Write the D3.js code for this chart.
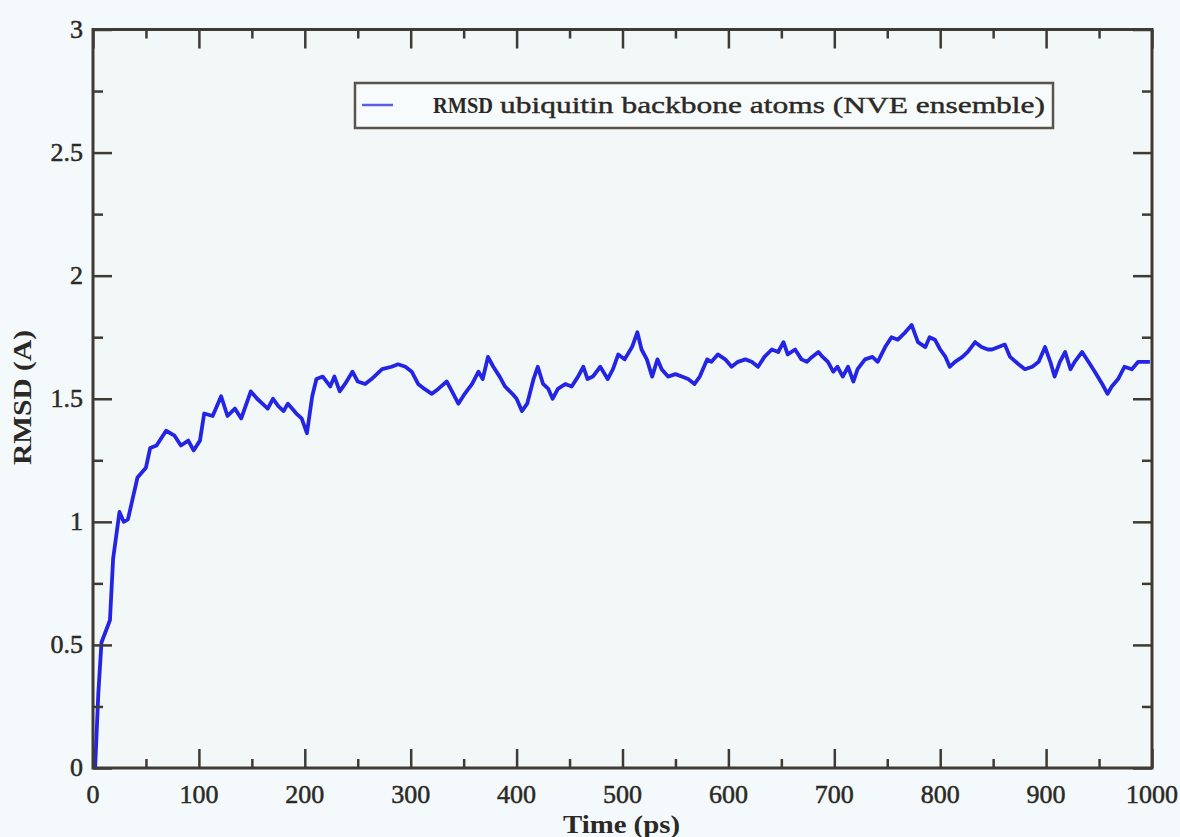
<!DOCTYPE html>
<html><head><meta charset="utf-8">
<script src="https://cdn.jsdelivr.net/npm/d3@7"></script>
<style>html,body{margin:0;padding:0;background:#f4f9fb;}svg{display:block;}</style>
</head><body>
<svg id="c" width="1180" height="837"></svg>
<script>
const timePs = [2,5,8,16,19,25,29,33,42,50,54,60,69,77,83,90,95,101,105,113,121,127,134,140,149,155,160,165,170,175,180,184,188,192,197,202,207,211,217,224,228,233,238,245,250,257,263,273,282,288,295,301,307,313,320,326,334,339,345,351,358,364,368,373,378,384,389,396,400,405,410,416,420,425,430,434,439,446,452,458,463,467,472,479,486,491,496,502,509,514,518,523,528,533,537,543,550,556,562,568,573,580,584,590,597,603,609,616,622,628,634,641,647,652,656,663,669,674,679,685,689,694,699,703,708,713,718,722,729,736,741,748,754,760,767,773,779,786,790,795,800,805,809,814,821,826,833,839,845,849,855,861,866,874,880,887,893,899,904,908,913,918,923,927,934,940,946,953,958,962,968,974,981,987,993,998];
const rmsd = [0.0,0.30,0.51,0.60,0.85,1.04,1.00,1.01,1.18,1.22,1.30,1.31,1.37,1.35,1.31,1.33,1.29,1.33,1.44,1.43,1.51,1.43,1.46,1.42,1.53,1.50,1.48,1.46,1.50,1.47,1.45,1.48,1.46,1.44,1.42,1.36,1.51,1.58,1.59,1.55,1.59,1.53,1.56,1.61,1.57,1.56,1.58,1.62,1.63,1.64,1.63,1.61,1.56,1.54,1.52,1.54,1.57,1.53,1.48,1.52,1.56,1.61,1.58,1.67,1.63,1.59,1.55,1.52,1.50,1.45,1.48,1.58,1.63,1.56,1.54,1.50,1.54,1.56,1.55,1.59,1.63,1.58,1.59,1.63,1.58,1.62,1.68,1.66,1.71,1.77,1.70,1.66,1.59,1.66,1.62,1.59,1.60,1.59,1.58,1.56,1.59,1.66,1.65,1.68,1.66,1.63,1.65,1.66,1.65,1.63,1.67,1.70,1.69,1.73,1.68,1.70,1.66,1.65,1.67,1.69,1.67,1.65,1.61,1.63,1.59,1.63,1.57,1.62,1.66,1.67,1.65,1.71,1.75,1.74,1.77,1.80,1.73,1.71,1.75,1.74,1.70,1.67,1.63,1.65,1.67,1.69,1.73,1.71,1.70,1.70,1.71,1.72,1.67,1.64,1.62,1.63,1.65,1.71,1.65,1.59,1.65,1.69,1.62,1.65,1.69,1.65,1.61,1.56,1.52,1.55,1.58,1.63,1.62,1.65,1.65,1.65];
const xMajorTicks = [0,100,200,300,400,500,600,700,800,900,1000];
const xMinorTicks = [50,150,250,350,450,550,650,750,850,950];
const yMajorTicks = [0,0.5,1,1.5,2,2.5,3];
const yMinorTicks = [0.25,0.75,1.25,1.75,2.25,2.75];
const yTickLabels = ["0","0.5","1","1.5","2","2.5","3"];
const xTitle = "Time (ps)";
const yTitle = "RMSD (A)";
const legendBold = "RMSD";
const legendRest = "ubiquitin backbone atoms (NVE ensemble)";

const svg = d3.select("#c");
const L = 93, R = 1152, T = 29.5, B = 768;
const x = d3.scaleLinear().domain([0,1000]).range([L,R]);
const y = d3.scaleLinear().domain([0,3]).range([B,T]);
const axisCol = "#3e3a34";
const txtCol = "#2b2925";
const font = "'Liberation Serif','Times New Roman',serif";

svg.append("rect").attr("width",1180).attr("height",837).attr("fill","#f4f9fb");
svg.append("rect").attr("x",L).attr("y",T).attr("width",R-L).attr("height",B-T).attr("fill","#f2f7f7");

// data line
const line = d3.line().x((d,i)=>x(timePs[i])).y(d=>y(d));
svg.append("path").datum(rmsd).attr("d",line).attr("fill","none")
  .attr("stroke","#2424e4").attr("stroke-width",3.8).attr("stroke-linejoin","round");

// axes with inward ticks
function addAxis(axisFn, scale, ticks, size, tr) {
  const g = svg.append("g").attr("transform",tr)
    .call(axisFn(scale).tickValues(ticks).tickSize(size).tickFormat(""));
  g.select(".domain").remove();
  g.selectAll("line").attr("stroke",axisCol).attr("stroke-width",2.5);
}
addAxis(d3.axisTop, x, xMajorTicks, 19, `translate(0,${B})`);
addAxis(d3.axisTop, x, xMinorTicks, 9, `translate(0,${B})`);
addAxis(d3.axisBottom, x, xMajorTicks, 19, `translate(0,${T})`);
addAxis(d3.axisBottom, x, xMinorTicks, 9, `translate(0,${T})`);
addAxis(d3.axisRight, y, yMajorTicks, 19, `translate(${L},0)`);
addAxis(d3.axisRight, y, yMinorTicks, 10, `translate(${L},0)`);
addAxis(d3.axisLeft, y, yMajorTicks, 19, `translate(${R},0)`);
addAxis(d3.axisLeft, y, yMinorTicks, 10, `translate(${R},0)`);

svg.append("rect").attr("x",L).attr("y",T).attr("width",R-L).attr("height",B-T)
  .attr("fill","none").attr("stroke",axisCol).attr("stroke-width",3);

// tick labels
svg.append("g").selectAll("text").data(xMajorTicks).join("text")
  .attr("x",d=>x(d)).attr("y",803).attr("text-anchor","middle")
  .attr("font-family",font).attr("font-size",26).attr("fill",txtCol)
  .attr("stroke",txtCol).attr("stroke-width",0.5).text(d=>d);
svg.append("g").selectAll("text").data(yMajorTicks).join("text")
  .attr("x",83).attr("y",d=>y(d)+8).attr("text-anchor","end")
  .attr("font-family",font).attr("font-size",26).attr("fill",txtCol)
  .attr("stroke",txtCol).attr("stroke-width",0.5).text((d,i)=>yTickLabels[i]);

// titles
svg.append("text").attr("x",563).attr("y",833)
  .attr("textLength",117).attr("lengthAdjust","spacingAndGlyphs")
  .attr("font-family",font).attr("font-size",25).attr("font-weight","bold").attr("fill",txtCol).text(xTitle);
svg.append("text").attr("transform","translate(31,465) rotate(-90)")
  .attr("textLength",135).attr("lengthAdjust","spacingAndGlyphs")
  .attr("font-family",font).attr("font-size",25).attr("font-weight","bold").attr("fill",txtCol).text(yTitle);

// legend
svg.append("rect").attr("x",355).attr("y",83).attr("width",698).attr("height",45)
  .attr("fill","#f7fbfc").attr("stroke","#5a544c").attr("stroke-width",2.5);
svg.append("line").attr("x1",362).attr("x2",393).attr("y1",105).attr("y2",105)
  .attr("stroke","#5c5ce6").attr("stroke-width",2.5);
svg.append("text").attr("x",433).attr("y",113)
  .attr("textLength",60).attr("lengthAdjust","spacingAndGlyphs")
  .attr("font-family",font).attr("font-size",24).attr("font-weight","bold").attr("fill",txtCol).text(legendBold);
svg.append("text").attr("x",500).attr("y",113)
  .attr("textLength",545).attr("lengthAdjust","spacingAndGlyphs")
  .attr("font-family",font).attr("font-size",24).attr("fill",txtCol)
  .attr("stroke",txtCol).attr("stroke-width",0.4).text(legendRest);
</script>
</body></html>
